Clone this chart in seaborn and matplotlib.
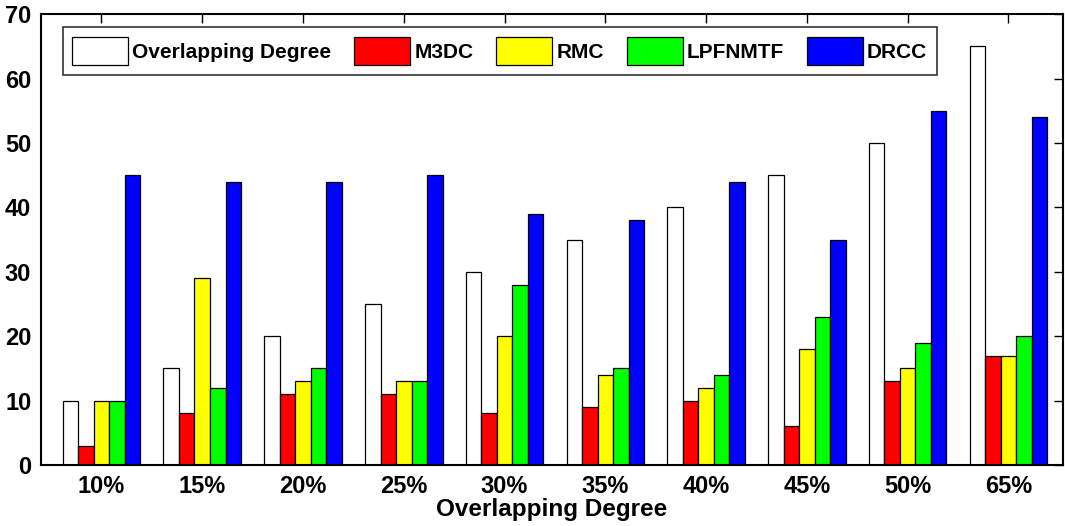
import matplotlib
matplotlib.use("Agg")
import matplotlib.pyplot as plt
import seaborn as sns
import pandas as pd

degrees = ["10%", "15%", "20%", "25%", "30%", "35%", "40%", "45%", "50%", "65%"]
methods = ["Overlapping Degree", "M3DC", "RMC", "LPFNMTF", "DRCC"]
overlap = [10, 15, 20, 25, 30, 35, 40, 45, 50, 65]
m3dc = [3, 8, 11, 11, 8, 9, 10, 6, 13, 17]
rmc = [10, 29, 13, 13, 20, 14, 12, 18, 15, 17]
lpfnmtf = [10, 12, 15, 13, 28, 15, 14, 23, 19, 20]
drcc = [45, 44, 44, 45, 39, 38, 44, 35, 55, 54]
colors = ["#ffffff", "#ff0000", "#ffff00", "#00ff00", "#0000ff"]

series = [overlap, m3dc, rmc, lpfnmtf, drcc]
rows = []
for name, vals in zip(methods, series):
    for d, v in zip(degrees, vals):
        rows.append({"degree": d, "method": name, "value": v})
df = pd.DataFrame(rows)

sns.set_style("white")
plt.rcParams["font.family"] = ["Liberation Sans", "DejaVu Sans"]
plt.rcParams["font.weight"] = "bold"
for key in ["text.color", "axes.labelcolor", "xtick.color", "ytick.color", "axes.edgecolor"]:
    plt.rcParams[key] = "black"

fig = plt.figure(figsize=(10.65, 5.26), dpi=100)
ax = fig.add_axes([0.0385, 0.116, 0.9595, 0.857])

sns.barplot(data=df, x="degree", y="value", hue="method", order=degrees,
            hue_order=methods, palette=colors, edgecolor="black",
            linewidth=0.9, width=0.77, gap=0, saturation=1, ax=ax,
            legend=False)

ax.set_xlim(-0.6, 9.54)
ax.set_ylim(0, 70)
ax.set_yticks(range(0, 71, 10))
ax.set_xlabel("Overlapping Degree", fontsize=17.5, fontweight="bold", labelpad=0)
ax.set_ylabel("")
ax.tick_params(axis="both", direction="in", length=6.5, width=1,
               top=True, right=True, labelsize=17, pad=7)
for lab in ax.get_xticklabels() + ax.get_yticklabels():
    lab.set_fontweight("bold")
for sp in ax.spines.values():
    sp.set_linewidth(1.5)
    sp.set_color("black")

handles = [plt.Rectangle((0, 0), 1, 1, facecolor=c, edgecolor="black", linewidth=0.9)
           for c in colors]
leg = ax.legend(handles, methods, ncol=5, loc="upper left",
                bbox_to_anchor=(0.0212, 0.971), frameon=True, fancybox=False,
                edgecolor="black", handlelength=2.7, handleheight=1.75,
                columnspacing=1.08, handletextpad=0.2, borderpad=0.45,
                borderaxespad=0, prop={"weight": "bold", "size": 15})
leg.get_frame().set_linewidth(1.2)

fig.savefig("out.png", dpi=100)
